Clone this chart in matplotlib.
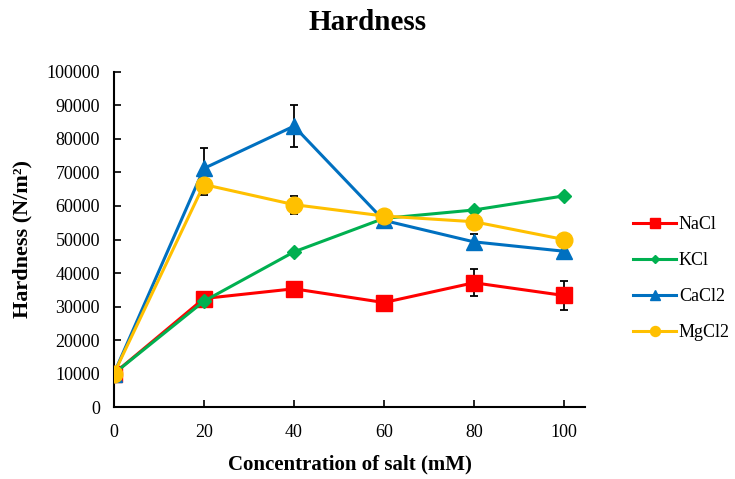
import numpy as np
import matplotlib
matplotlib.use('Agg')
import matplotlib.pyplot as plt
from matplotlib.lines import Line2D

plt.rcParams['font.family'] = ['Liberation Serif', 'DejaVu Serif']

conc = [0, 20, 40, 60, 80, 100]
nacl = [10000, 32400, 35300, 31200, 37100, 33300]
nacl_err = [0, 0, 0, 0, 4000, 4300]
kcl = [10000, 31600, 46300, 56300, 58800, 63000]
kcl_err = [0, 0, 0, 0, 0, 0]
cacl2 = [10000, 71200, 83800, 55700, 49300, 46500]
cacl2_err = [0, 6200, 6200, 0, 2400, 0]
mgcl2 = [10000, 66400, 60400, 57000, 55300, 50000]
mgcl2_err = [0, 3200, 2700, 0, 0, 0]

fig = plt.figure(figsize=(7.35, 4.79), dpi=100)
ax = fig.add_axes([0.155, 0.150, 0.641, 0.700])

series = [
    ('NaCl', nacl, nacl_err, '#ff0000', 's', 11),
    ('KCl', kcl, kcl_err, '#00b050', 'D', 7),
    ('CaCl2', cacl2, cacl2_err, '#0070c0', '^', 11),
    ('MgCl2', mgcl2, mgcl2_err, '#ffc000', 'o', 12),
]
handles = []
for name, vals, err, col, mk, ms in series:
    x = [c for c, e in zip(conc, err) if e > 0]
    y = [v for v, e in zip(vals, err) if e > 0]
    ye = [e for e in err if e > 0]
    if ye:
        ax.errorbar(x, y, yerr=ye, fmt='none', ecolor='black', elinewidth=1.3,
                    capsize=3, capthick=1.3, zorder=2)
    ax.plot(conc, vals, color=col, marker=mk, markersize=ms, linewidth=2.2, zorder=3)
    handles.append(Line2D([], [], color=col, marker=mk, markersize=ms * 0.6,
                          linewidth=2.2, label=name))

ax.set_xlim(0, 104.7)
ax.set_ylim(0, 100000)
ax.set_xticks(conc)
ax.set_yticks(np.arange(0, 100001, 10000))
ax.tick_params(direction='in', labelsize=13, width=1.2, length=5)
ax.tick_params(axis='x', pad=12)
ax.tick_params(axis='y', pad=10)
for s in ['top', 'right']:
    ax.spines[s].set_visible(False)
for s in ['left', 'bottom']:
    ax.spines[s].set_linewidth(1.5)
ax.set_xlabel('Concentration of salt (mM)', fontsize=15, fontweight='bold', labelpad=10)
ax.set_ylabel('Hardness (N/m\u00b2)', fontsize=16, fontweight='bold', labelpad=10)
fig.text(0.5, 0.953, 'Hardness', ha='center', va='center', fontsize=21, fontweight='bold')

fig.legend(handles=handles, loc='center left', bbox_to_anchor=(0.861, 0.418),
           frameon=False, fontsize=13, labelspacing=1.05, handlelength=2.4,
           handletextpad=0.15, borderpad=0, borderaxespad=0)

fig.savefig('out.png', dpi=100)
